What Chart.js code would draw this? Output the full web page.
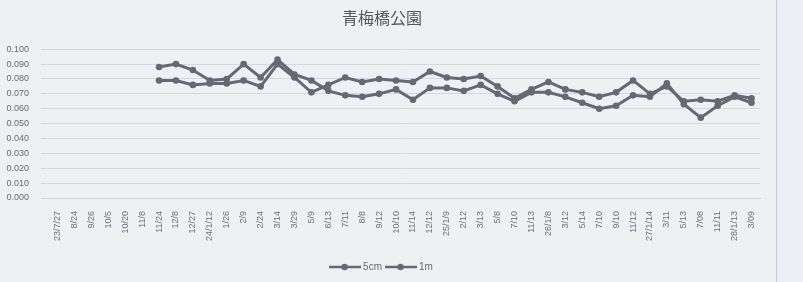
<!DOCTYPE html>
<html><head><meta charset="utf-8">
<script src="https://cdn.jsdelivr.net/npm/chart.js@4/dist/chart.umd.min.js"></script>
<style>
html,body{margin:0;padding:0;background:#eceef3;}
#wrap{position:absolute;left:0;top:0;width:776px;height:282px;border-right:1px solid #c9cacf;background:#eef0f4;}
</style></head>
<body>
<div id="wrap"><canvas id="c" width="776" height="282"></canvas></div>
<script>
const categories = ["23/7/27","8/24","9/26","10/5","10/20","11/8","11/24","12/8","12/27","24/1/12","1/26","2/9","2/24","3/14","3/29","5/9","6/13","7/11","8/8","9/12","10/10","11/14","12/12","25/1/9","2/12","3/13","5/8","7/10","11/13","26/1/8","3/12","5/14","7/10","9/10","11/12","27/1/14","3/11","5/13","7/08","11/11","28/1/13","3/09"];
const series5cm = [null,null,null,null,null,null,0.088,0.090,0.086,0.079,0.080,0.090,0.081,0.093,0.083,0.079,0.072,0.069,0.068,0.070,0.073,0.066,0.074,0.074,0.072,0.076,0.070,0.065,0.071,0.071,0.068,0.064,0.060,0.062,0.069,0.068,0.077,0.063,0.054,0.062,0.068,0.064];
const series1m = [null,null,null,null,null,null,0.079,0.079,0.076,0.077,0.077,0.079,0.075,0.090,0.081,0.071,0.076,0.081,0.078,0.080,0.079,0.078,0.085,0.081,0.080,0.082,0.075,0.067,0.073,0.078,0.073,0.071,0.068,0.071,0.079,0.070,0.075,0.065,0.066,0.065,0.069,0.067];
const yTicks = [0,0.01,0.02,0.03,0.04,0.05,0.06,0.07,0.08,0.09,0.1];

const lineColor = '#68696e';
function legendIcon(){
  const c=document.createElement('canvas'); c.width=32; c.height=10;
  const g=c.getContext('2d');
  g.strokeStyle=lineColor; g.lineWidth=2.5;
  g.beginPath(); g.moveTo(0,5); g.lineTo(32,5); g.stroke();
  g.fillStyle=lineColor; g.beginPath(); g.arc(16,5,3.2,0,Math.PI*2); g.fill();
  return c;
}
const icon = legendIcon();

new Chart(document.getElementById('c'), {
  type:'line',
  data:{labels:categories, datasets:[
    {label:'5cm', data:series5cm, borderColor:lineColor, backgroundColor:lineColor, borderWidth:3, pointRadius:3.3, pointBackgroundColor:lineColor, pointBorderWidth:0, tension:0, pointStyle:'circle'},
    {label:'1m', data:series1m, borderColor:lineColor, backgroundColor:lineColor, borderWidth:3, pointRadius:3.3, pointBackgroundColor:lineColor, pointBorderWidth:0, tension:0, pointStyle:'circle'}
  ]},
  options:{
    responsive:false, animation:false,
    layout:{padding:{left:4,right:16,top:0,bottom:0}},
    plugins:{
      title:{display:true, text:'青梅橋公園', color:'#55565a', font:{family:'"Noto Sans CJK JP"', size:16, weight:'normal'}, padding:{top:8,bottom:22}},
      legend:{position:'bottom', labels:{color:'#6a6a6e', font:{family:'"Liberation Sans"', size:10}, boxWidth:27, boxHeight:10, pointStyleWidth:27, padding:5,
        generateLabels:(chart)=>chart.data.datasets.map((d,i)=>({text:d.label, pointStyle:icon, fillStyle:lineColor, strokeStyle:lineColor, lineWidth:0, fontColor:'#6a6a6e', datasetIndex:i, hidden:false})),
        usePointStyle:true}},
      tooltip:{enabled:false}
    },
    scales:{
      x:{offset:true, grid:{display:false}, border:{display:true,color:'#d0d2d8'},
        ticks:{color:'#707075', font:{family:'"Liberation Sans"', size:9}, maxRotation:90, minRotation:90, autoSkip:false, padding:5},
        afterFit:(s)=>{s.height=59;}},
      y:{min:0,max:0.1, afterBuildTicks:(s)=>{s.ticks=yTicks.map(v=>({value:v}));},
        grid:{color:'#d6d8de', lineWidth:1}, border:{display:false},
        ticks:{color:'#6a6a6e', font:{family:'"Liberation Sans"', size:9}, padding:12, callback:(v)=>Number(v).toFixed(3)},
        afterFit:(s)=>{s.width=45;}}
    }
  }
});
</script>
</body></html>
